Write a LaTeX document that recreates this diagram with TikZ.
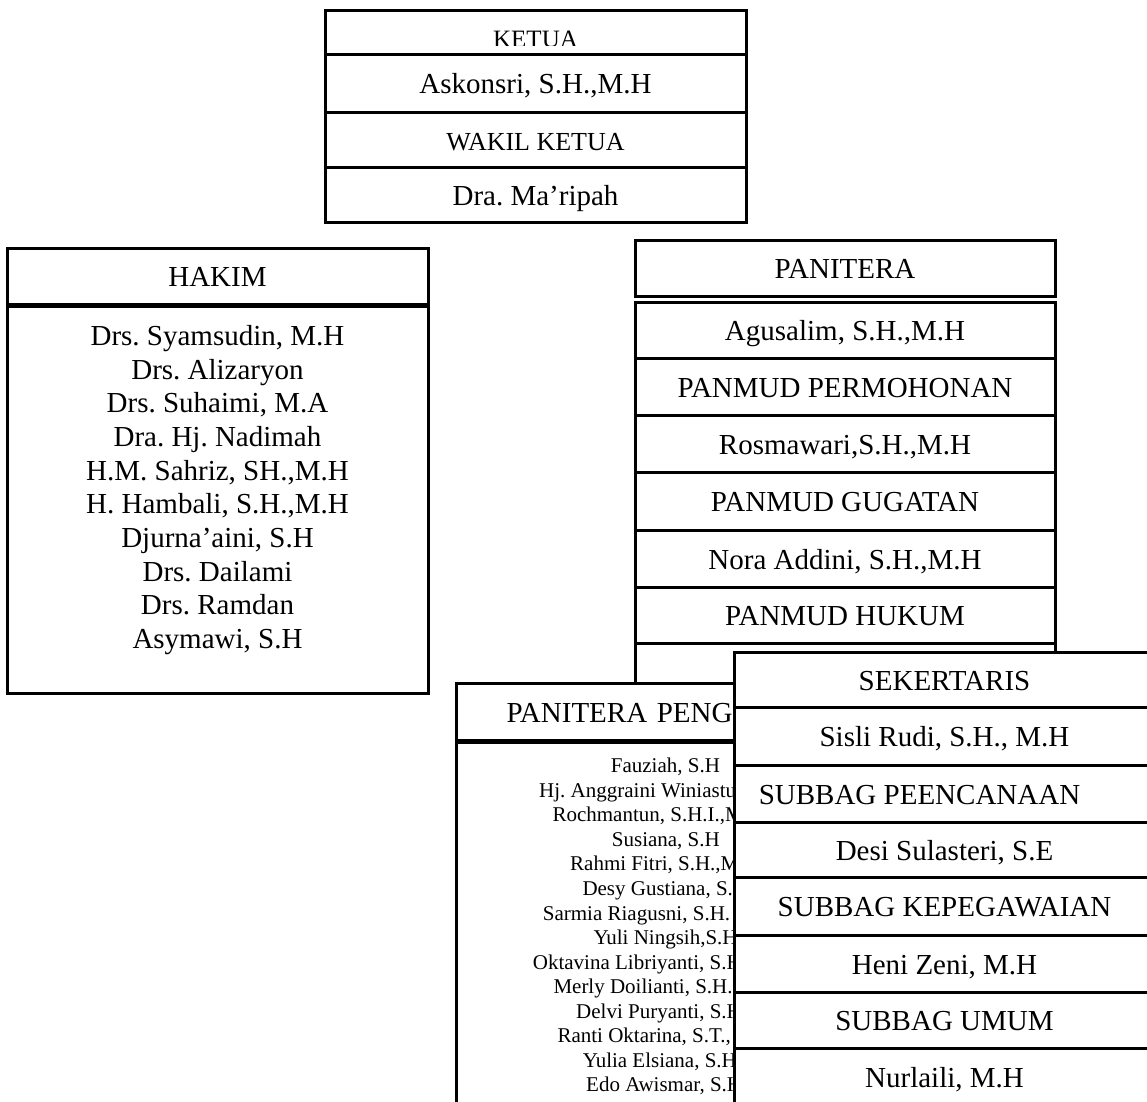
\documentclass[tikz,border=0pt]{standalone}
\usepackage{fontspec}
\setmainfont{Liberation Serif}
\usetikzlibrary{positioning}
\frenchspacing

\begin{document}
\begin{tikzpicture}[x=1pt, y=-1pt,
    row/.style={draw, line width=3pt, fill=white, minimum width=421pt, inner sep=0pt, outer sep=0pt, text height=24pt, text depth=3pt, font=\fontsize{29}{34}\selectfont},
    small/.style={font=\fontsize{26}{30}\selectfont},
    names/.style={align=center, inner sep=0pt, font=\fontsize{29}{33.7}\selectfont},
    member/.style={anchor=base west, inner sep=0pt, font=\fontsize{21}{24}\selectfont}]

    \useasboundingbox (0,0) rectangle (1147,1101);

    \node (ketua) [row, minimum height=44pt, anchor=north west] at (325,10) {};
    \begin{scope}
        \clip (325,10) rectangle (746,45.5);
        \node (ketuatext) [anchor=base, inner sep=0pt, font=\fontsize{25}{30}\selectfont] at (535.5,47) {KETUA};
    \end{scope}
    \node (askonsri) [row, minimum height=58pt, below=0pt of ketua] {Askonsri, S.H.,M.H};
    \node (wakil) [row, small, minimum height=55pt, below=0pt of askonsri] {WAKIL KETUA};
    \node (maripah) [row, minimum height=55pt, below=0pt of wakil] {Dra. Ma’ripah};

    \node (hakim) [row, minimum height=56pt, anchor=north west] at (7,248) {HAKIM};
    \node (hakimbox) [row, minimum height=387pt, below=2pt of hakim] {};
    \node (hakimnames) [names, anchor=north] at ([yshift=-19pt]hakimbox.north) {Drs. Syamsudin, M.H\\ Drs. Alizaryon\\ Drs. Suhaimi, M.A\\ Dra. Hj. Nadimah\\ H.M. Sahriz, SH.,M.H\\ H. Hambali, S.H.,M.H\\ Djurna’aini, S.H\\ Drs. Dailami\\ Drs. Ramdan\\ Asymawi, S.H};

    \node (panitera) [row, minimum width=420pt, minimum height=56pt, anchor=north west] at (635,240) {PANITERA};
    \node (agusalim) [row, minimum width=420pt, minimum height=56pt, below=6pt of panitera] {Agusalim, S.H.,M.H};
    \node (permohonan) [row, minimum width=420pt, minimum height=57pt, below=0pt of agusalim] {PANMUD PERMOHONAN};
    \node (rosmawari) [row, minimum width=420pt, minimum height=57pt, below=0pt of permohonan] {Rosmawari,S.H.,M.H};
    \node (gugatan) [row, minimum width=420pt, minimum height=58pt, below=0pt of rosmawari] {PANMUD GUGATAN};
    \node (nora) [row, minimum width=420pt, minimum height=57pt, below=0pt of gugatan] {Nora Addini, S.H.,M.H};
    \node (hukum) [row, minimum width=420pt, minimum height=56pt, below=0pt of nora] {PANMUD HUKUM};
    \node (hukumnama) [row, minimum width=420pt, minimum height=57pt, below=0pt of hukum] {};

    \node (pengganti) [row, minimum height=57pt, text width=380pt, align=left, inner xsep=50.5pt, anchor=north west] at (456,683) {PANITERA PENG};
    \node (penggantibox) [row, minimum width=481pt, minimum height=390pt, below=2pt of pengganti] {};

    \node (fauziah) [member] at (610.7,772.7) {Fauziah, S.H};
    \node (anggraini) [member] at (539,797.3) {Hj. Anggraini Winiastu};
    \node (rochmantun) [member] at (552.3,821.8) {Rochmantun, S.H.I.,M};
    \node (susiana) [member] at (611.7,846.4) {Susiana, S.H};
    \node (rahmi) [member] at (570,870.9) {Rahmi Fitri, S.H.,M};
    \node (desy) [member] at (582.3,895.5) {Desy Gustiana, S.};
    \node (sarmia) [member] at (542.7,920) {Sarmia Riagusni, S.H.};
    \node (yuli) [member] at (593.3,944.6) {Yuli Ningsih,S.H};
    \node (oktavina) [member] at (532.7,969.1) {Oktavina Libriyanti, S.H};
    \node (merly) [member] at (553.3,993.7) {Merly Doilianti, S.H.};
    \node (delvi) [member] at (576,1018.2) {Delvi Puryanti, S.H};
    \node (ranti) [member] at (557.3,1042.8) {Ranti Oktarina, S.T.,};
    \node (yulia) [member] at (582.7,1067.3) {Yulia Elsiana, S.H};
    \node (edo) [member] at (586,1091.9) {Edo Awismar, S.H};

    \node (sekertaris) [row, minimum height=55pt, anchor=north west] at (734,652) {SEKERTARIS};
    \node (sisli) [row, minimum height=58pt, below=0pt of sekertaris] {Sisli Rudi, S.H., M.H};
    \node (perencanaan) [row, minimum height=57pt, below=0pt of sisli] {SUBBAG PEENCANAAN\hspace*{50pt}};
    \node (desi) [row, minimum height=55pt, below=0pt of perencanaan] {Desi Sulasteri, S.E};
    \node (kepegawaian) [row, minimum height=58pt, below=0pt of desi] {SUBBAG KEPEGAWAIAN};
    \node (heni) [row, minimum height=57pt, below=0pt of kepegawaian] {Heni Zeni, M.H};
    \node (umum) [row, minimum height=56pt, below=0pt of heni] {SUBBAG UMUM};
    \node (nurlaili) [row, minimum height=57pt, below=0pt of umum] {Nurlaili, M.H};
\end{tikzpicture}
\end{document}
